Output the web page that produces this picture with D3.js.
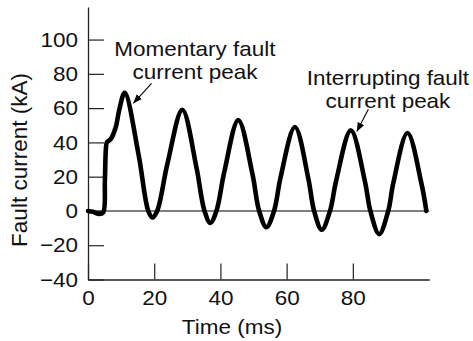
<!DOCTYPE html>
<html>
<head>
<meta charset="utf-8">
<script src="https://cdn.jsdelivr.net/npm/d3@7"></script>
<style>
  html, body { margin: 0; padding: 0; background: #fff; }
  svg { display: block; font-family: "Liberation Sans", Arial, Helvetica, sans-serif; }
  text { fill: #111; }
</style>
</head>
<body>
<svg id="chart" width="473" height="341"></svg>
<script>
// Fault current trace: time (ms) and current (kA) at points
const timeMs = [0, 1.5, 3.4, 4.6, 5.1, 5.4, 5.7, 6.9, 8.4, 9.4, 11.1,
                15.3, 18.2, 19.45, 20.9, 24.0, 28.5,
                32.7, 35.2, 36.95, 38.8, 41.2, 45.4,
                49.65, 51.7, 53.9, 56.2, 58.2, 62.5,
                66.55, 68.3, 70.6, 73.1, 75.0, 79.4,
                83.7, 85.3, 87.95, 90.7, 92.2, 96.5,
                100.75, 102.2];
const currentKA = [0, -0.5, -1.8, -0.8, 18, 36, 40, 42, 49, 58.6, 69,
                   32.6, 0, -3.8, 0, 27.6, 59,
                   26, 0, -7, 0, 23, 53,
                   21.8, 0, -9.5, 0, 19.8, 49,
                   19, 0, -11, 0, 18, 47,
                   16.8, 0, -13.5, 0, 16, 45.5,
                   15.8, 0];

const xTicks = [0, 20, 40, 60, 80];
const yTicks = [-40, -20, 0, 20, 40, 60, 80, 100];

// Callouts: label lines, text anchor point and arrow tail/tip, all in data units
const momentaryLines = ["Momentary fault", "current peak"];
const momentaryText = [32.3, 90.4];
const momentaryArrow = [[19.2, 74.5], [13.7, 62.8]];
const interruptLines = ["Interrupting fault", "current peak"];
const interruptText = [90.6, 73.5];
const interruptArrow = [[84.7, 59.3], [81.2, 46.3]];

const svg = d3.select("#chart");
const fontSize = 21;
const widen = 1.07; // the lettering runs slightly wide

function stretch(sel) {
  sel.each(function () {
    const len = this.getComputedTextLength();
    d3.select(this).attr("textLength", len * widen).attr("lengthAdjust", "spacingAndGlyphs");
  });
}

const x = d3.scaleLinear().domain([0, 103.1]).range([88, 429.3]);
const y = d3.scaleLinear().domain([-40, 119]).range([279.5, 7]);

// Zero reference line
svg.append("line")
  .attr("x1", x(0)).attr("x2", x(103.1))
  .attr("y1", y(0)).attr("y2", y(0))
  .attr("stroke", "#000").attr("stroke-width", 1.1);

// Axes with ticks pointing inward
const xAxis = svg.append("g")
  .attr("transform", `translate(0,${y(-40)})`)
  .call(d3.axisBottom(x).tickValues(xTicks).tickSizeInner(-16).tickSizeOuter(0).tickPadding(11));
const yAxis = svg.append("g")
  .attr("transform", `translate(${x(0)},0)`)
  .call(d3.axisLeft(y).tickValues(yTicks).tickSizeInner(-16).tickSizeOuter(0).tickPadding(10)
        .tickFormat(d => d < 0 ? "\u2212" + Math.abs(d) : d));

[xAxis, yAxis].forEach(g => {
  g.attr("font-family", null).attr("font-size", null);
  g.select(".domain").attr("stroke", "#222").attr("stroke-width", 1.3);
  g.selectAll(".tick line").attr("stroke", "#222").attr("stroke-width", 1.2);
  g.selectAll(".tick text").attr("font-size", fontSize).attr("fill", "#111").call(stretch);
});

// Axis titles
svg.append("text")
  .attr("x", x(43.5)).attr("y", 334)
  .attr("text-anchor", "middle").attr("font-size", fontSize)
  .text("Time (ms)").call(stretch);
svg.append("text")
  .attr("transform", `translate(27,160) rotate(-90)`)
  .attr("text-anchor", "middle").attr("font-size", 22.5)
  .text("Fault current (kA)");

// Waveform
const line = d3.line()
  .x((d, i) => x(timeMs[i]))
  .y(d => y(d))
  .curve(d3.curveCatmullRom.alpha(0.5));
svg.append("path")
  .datum(currentKA)
  .attr("d", line)
  .attr("fill", "none")
  .attr("stroke", "#000")
  .attr("stroke-width", 4.6)
  .attr("stroke-linejoin", "round")
  .attr("stroke-linecap", "round");

// Arrow marker
svg.append("defs").append("marker")
  .attr("id", "arrowhead")
  .attr("viewBox", "0 0 10 10")
  .attr("refX", 10).attr("refY", 5)
  .attr("markerWidth", 9).attr("markerHeight", 9)
  .attr("markerUnits", "userSpaceOnUse")
  .attr("orient", "auto")
  .append("path")
  .attr("d", "M0,1 L10,5 L0,9 Z")
  .attr("fill", "#000");

function callout(lines, at, arrow) {
  lines.forEach((s, i) => {
    svg.append("text")
      .attr("x", x(at[0]))
      .attr("y", y(at[1]) + i * 23)
      .attr("text-anchor", "middle")
      .attr("font-size", fontSize)
      .text(s)
      .call(stretch);
  });
  svg.append("line")
    .attr("x1", x(arrow[0][0])).attr("y1", y(arrow[0][1]))
    .attr("x2", x(arrow[1][0])).attr("y2", y(arrow[1][1]))
    .attr("stroke", "#000").attr("stroke-width", 1.1)
    .attr("marker-end", "url(#arrowhead)");
}
callout(momentaryLines, momentaryText, momentaryArrow);
callout(interruptLines, interruptText, interruptArrow);
</script>
</body>
</html>
